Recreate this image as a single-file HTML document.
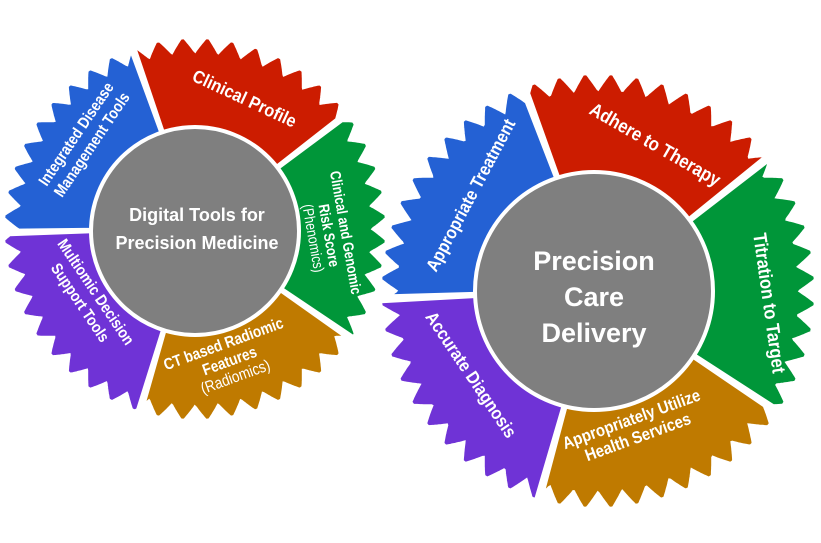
<!DOCTYPE html>
<html><head><meta charset="utf-8"><style>
html,body{margin:0;padding:0;background:#fff;}
svg{display:block;}
text{font-family:"Liberation Sans Narrow","Liberation Sans",sans-serif;font-weight:bold;fill:#fff;text-anchor:middle;}
.l{font-weight:normal;}
</style></head><body>
<svg id="s" width="821" height="543" viewBox="0 0 821 543" xmlns="http://www.w3.org/2000/svg">
<g id="gears"></g>
<circle cx="195" cy="231" r="104" fill="#7f7f7f" stroke="#fff" stroke-width="4"/>
<circle cx="594" cy="291" r="119" fill="#7f7f7f" stroke="#fff" stroke-width="4"/>
<!-- left gear labels -->
<text font-size="18" transform="translate(242,104) rotate(25) scale(0.9,1)">Clinical Profile</text>
<text font-size="16" transform="translate(88,142) rotate(-56) scale(0.85,1)"><tspan x="0" y="-9">Integrated Disease</tspan><tspan x="0" y="10">Management Tools</tspan></text>
<text font-size="15" transform="translate(326,236) rotate(80) scale(0.82,1)"><tspan x="0" y="-15">Clinical and Genomic</tspan><tspan x="0" y="2">Risk Score</tspan><tspan class="l" x="0" y="18">(Phenomics)</tspan></text>
<text font-size="16" transform="translate(230,362) rotate(-20) scale(0.85,1)"><tspan x="0" y="-14">CT based Radiomic</tspan><tspan x="0" y="4">Features</tspan><tspan class="l" x="0" y="21">(Radiomics)</tspan></text>
<text font-size="16" transform="translate(84,300) rotate(56) scale(0.85,1)"><tspan x="0" y="-9">Multiomic Decision</tspan><tspan x="0" y="10">Support Tools</tspan></text>
<text font-size="18" fill="#f2f2f2" x="197" y="221">Digital Tools for</text>
<text font-size="18" fill="#f2f2f2" x="197" y="249">Precision Medicine</text>
<!-- right gear labels -->
<text font-size="18" transform="translate(476,198) rotate(-62) scale(0.88,1)">Appropriate Treatment</text>
<text font-size="19" transform="translate(652,150) rotate(30) scale(0.88,1)">Adhere to Therapy</text>
<text font-size="19" transform="translate(763,304) rotate(82) scale(0.88,1)">Titration to Target</text>
<text font-size="18" transform="translate(466,378) rotate(56) scale(0.88,1)">Accurate Diagnosis</text>
<text font-size="17" transform="translate(636,432) rotate(-20) scale(0.88,1)"><tspan x="0" y="-8">Appropriately Utilize</tspan><tspan x="0" y="11">Health Services</tspan></text>
<text font-size="27" fill="#f2f2f2" x="594" y="270">Precision</text>
<text font-size="27" fill="#f2f2f2" x="594" y="306">Care</text>
<text font-size="27" fill="#f2f2f2" x="594" y="342">Delivery</text>
</svg>
<script>
(function(){
var g=document.getElementById('gears');
var cols=['#2461d4','#cc1c00','#009639','#bf7a00','#6f33d6'];
function gear(cx,cy,rin,rroot,rtip,n,start){
  var P=360/n;
  for(var s=0;s<5;s++){
    var a0=start+s*72+0.8,a1=start+(s+1)*72-0.8;
    var pts=[];
    for(var a=a0;a<=a1+0.001;a+=0.25){
      var ph=((a%P)+P)%P/P;
      var tri=1-Math.abs(ph*2-1);
      tri=Math.min(1,tri*1.15);
      var r=rroot+(rtip-rroot)*tri;
      var t=a*Math.PI/180;
      pts.push((cx+r*Math.cos(t)).toFixed(1)+','+(cy+r*Math.sin(t)).toFixed(1));
    }
    for(var a=a1;a>=a0-0.001;a-=1){
      var t=a*Math.PI/180;
      pts.push((cx+rin*Math.cos(t)).toFixed(1)+','+(cy+rin*Math.sin(t)).toFixed(1));
    }
    var p=document.createElementNS('http://www.w3.org/2000/svg','polygon');
    p.setAttribute('points',pts.join(' '));
    p.setAttribute('fill',cols[s]);
    p.setAttribute('stroke','#fff');p.setAttribute('stroke-width','2');
    g.appendChild(p);
  }
}
gear(195,229,100,177,191,48,-181);
gear(598,291,115,201,217,52,-182);
})();
</script>
</body></html>
